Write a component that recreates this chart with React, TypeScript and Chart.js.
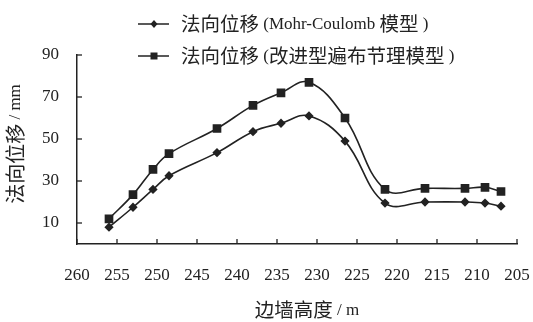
import React, { useEffect, useRef } from "react";
import { Chart, registerables } from "chart.js";

Chart.register(...registerables);

// Wall height (m) at each measuring point
const heights = [256, 253, 250.5, 248.5, 242.5, 238, 234.5, 231, 226.5, 221.5, 216.5, 211.5, 209, 207];
// Normal displacement (mm), Mohr-Coulomb model
const mohrCoulomb = [8, 17.5, 26, 32.5, 43.5, 53.5, 57.5, 61, 49, 19.5, 20, 20, 19.5, 18];
// Normal displacement (mm), improved ubiquitous-joint model
const jointModel = [12, 23.5, 35.5, 43, 55, 66, 72, 77, 60, 26, 26.5, 26.5, 27, 25];

const xTickValues = [260, 255, 250, 245, 240, 235, 230, 225, 220, 215, 210, 205];
const yTickValues = [10, 30, 50, 70, 90];
const seriesLabels = ["法向位移 (Mohr-Coulomb 模型 )", "法向位移 (改进型遍布节理模型 )"];
const xTitle = "边墙高度 / m";
const yTitle = "法向位移 / mm";

const LATIN = "'Liberation Serif', serif";
const CJK = "'Noto Sans CJK SC', sans-serif";
const INK = "#222";

type Run = { text: string; cjk: boolean };
function splitRuns(text: string): Run[] {
  const runs: Run[] = [];
  for (const ch of text) {
    const cjk = /[\u3000-\u9fff\uff00-\uffef]/.test(ch);
    const last = runs[runs.length - 1];
    if (last && last.cjk === cjk) last.text += ch;
    else runs.push({ text: ch, cjk });
  }
  return runs;
}

function drawMixed(
  ctx: CanvasRenderingContext2D,
  text: string,
  x: number,
  y: number,
  align: "left" | "center",
  cjkSize: number,
  latinSize: number
) {
  const runs = splitRuns(text);
  const fontOf = (r: Run) => (r.cjk ? `${cjkSize}px ${CJK}` : `${latinSize}px ${LATIN}`);
  let total = 0;
  runs.forEach((r) => {
    ctx.font = fontOf(r);
    total += ctx.measureText(r.text).width;
  });
  let cx = align === "center" ? x - total / 2 : x;
  ctx.textAlign = "left";
  ctx.textBaseline = "middle";
  runs.forEach((r) => {
    ctx.font = fontOf(r);
    ctx.fillText(r.text, cx, y + (r.cjk ? 0 : 1));
    cx += ctx.measureText(r.text).width;
  });
}

function drawMarker(ctx: CanvasRenderingContext2D, style: string, x: number, y: number) {
  ctx.beginPath();
  if (style === "rect") {
    ctx.rect(x - 3.5, y - 3.5, 7, 7);
  } else {
    ctx.moveTo(x, y - 4);
    ctx.lineTo(x + 3.5, y);
    ctx.lineTo(x, y + 4);
    ctx.lineTo(x - 3.5, y);
    ctx.closePath();
  }
  ctx.fill();
}

const decorPlugin = {
  id: "decor",
  afterDraw(chart: any) {
    const ctx: CanvasRenderingContext2D = chart.ctx;
    const area = chart.chartArea;
    const xs = chart.scales.x;
    const ys = chart.scales.y;
    ctx.save();
    ctx.strokeStyle = INK;
    ctx.fillStyle = INK;
    ctx.lineWidth = 1.3;
    // inward ticks
    xTickValues.forEach((v) => {
      const px = xs.getPixelForValue(v);
      ctx.beginPath();
      ctx.moveTo(px, area.bottom);
      ctx.lineTo(px, area.bottom - 5);
      ctx.stroke();
    });
    yTickValues.forEach((v) => {
      const py = ys.getPixelForValue(v);
      ctx.beginPath();
      ctx.moveTo(area.left, py);
      ctx.lineTo(area.left + 5, py);
      ctx.stroke();
    });
    // legend
    const styles = ["rectRot", "rect"];
    const rowY = [24, 56];
    seriesLabels.forEach((label, i) => {
      const y = rowY[i];
      ctx.lineWidth = 1.5;
      ctx.beginPath();
      ctx.moveTo(138, y);
      ctx.lineTo(169, y);
      ctx.stroke();
      drawMarker(ctx, styles[i], 154, y);
      drawMixed(ctx, label, 181, y, "left", 19.5, 17);
    });
    // axis titles
    drawMixed(ctx, xTitle, 307, 310, "center", 19.5, 17);
    ctx.save();
    ctx.translate(15, 144);
    ctx.rotate(-Math.PI / 2);
    drawMixed(ctx, yTitle, 0, 0, "center", 20, 17);
    ctx.restore();
    ctx.restore();
  },
};

export default function App() {
  const ref = useRef<HTMLCanvasElement | null>(null);
  useEffect(() => {
    document.body.style.margin = "0";
    if (!ref.current) return;
    const chart = new Chart(ref.current, {
      type: "line",
      data: {
        datasets: [
          {
            label: seriesLabels[0],
            data: heights.map((h, i) => ({ x: h, y: mohrCoulomb[i] })),
            borderColor: INK,
            backgroundColor: INK,
            borderWidth: 1.6,
            pointStyle: "rectRot",
            pointRadius: 3.5,
            tension: 0.4,
          },
          {
            label: seriesLabels[1],
            data: heights.map((h, i) => ({ x: h, y: jointModel[i] })),
            borderColor: INK,
            backgroundColor: INK,
            borderWidth: 1.6,
            pointStyle: "rect",
            pointRadius: 5,
            tension: 0.4,
          },
        ],
      },
      options: {
        responsive: false,
        animation: false,
        layout: { padding: { top: 55, right: 16, left: 0, bottom: 0 } },
        plugins: { legend: { display: false }, tooltip: { enabled: false } },
        scales: {
          x: {
            type: "linear",
            reverse: true,
            min: 205,
            max: 260,
            afterBuildTicks: (s: any) => {
              s.ticks = xTickValues.map((v) => ({ value: v }));
            },
            afterFit: (s: any) => {
              s.height = 78;
              s.paddingRight = 0;
              s.paddingLeft = 0;
            },
            grid: { display: false },
            border: { display: true, color: INK, width: 1.5 },
            ticks: { color: INK, font: { family: LATIN, size: 17 }, padding: 13, maxRotation: 0 },
          },
          y: {
            type: "linear",
            min: 0,
            max: 90,
            afterBuildTicks: (s: any) => {
              s.ticks = yTickValues.map((v) => ({ value: v }));
            },
            afterFit: (s: any) => {
              s.width = 77;
            },
            grid: { display: false },
            border: { display: true, color: INK, width: 1.5 },
            ticks: { color: INK, font: { family: LATIN, size: 17 }, padding: 10 },
          },
        },
      },
      plugins: [decorPlugin],
    } as any);
    return () => chart.destroy();
  }, []);
  return (
    <div style={{ width: 533, height: 322, background: "#fff" }}>
      <canvas ref={ref} width={533} height={322} />
    </div>
  );
}
